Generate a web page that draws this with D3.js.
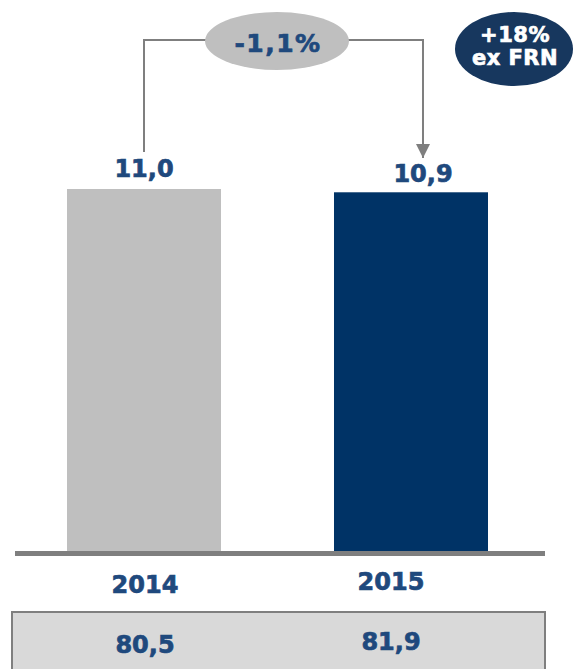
<!DOCTYPE html>
<html><head><meta charset="utf-8">
<script src="https://cdn.jsdelivr.net/npm/d3@7"></script>
<style>html,body{margin:0;padding:0;background:#fff;}</style>
</head><body>
<svg id="c" width="577" height="669"></svg>
<script>
const years = ["2014", "2015"];
const values = [11.0, 10.9];
const valueLabels = ["11,0", "10,9"];
const tableValues = ["80,5", "81,9"];
const changeLabel = "-1,1%";
const badgeLines = ["+18%", "ex FRN"];
const barColors = ["#BFBFBF", "#003366"];

const svg = d3.select("#c");
const font = "'DejaVu Sans', Verdana, sans-serif";
const textColor = "#1F497D";
const baseY = 551;

const x = d3.scaleBand().domain(years).range([67, 488]).paddingInner(0.4232).paddingOuter(0);
const y = d3.scaleLinear().domain([0, 11]).range([baseY, 189]);
const tableX = d3.scalePoint().domain(years).range([145, 391]);

function bold(sel, size, color) {
  return sel.attr("font-family", font).attr("font-weight", "bold").attr("font-size", size)
    .attr("fill", color).attr("stroke", color).attr("stroke-width", 0.7);
}

// bars
svg.selectAll("rect.bar").data(years).join("rect").attr("class", "bar")
  .attr("x", d => x(d)).attr("width", x.bandwidth())
  .attr("y", (d, i) => y(values[i])).attr("height", (d, i) => baseY - y(values[i]))
  .attr("fill", (d, i) => barColors[i]);

// baseline
svg.append("rect").attr("x", 15).attr("y", baseY).attr("width", 530).attr("height", 5).attr("fill", "#7F7F7F");

// value labels
const labelOffsets = [0, 12];
const labelGaps = [12, 10];
bold(svg.selectAll("text.val").data(years).join("text").attr("class", "val")
  .attr("x", (d, i) => x(d) + x.bandwidth() / 2 + labelOffsets[i])
  .attr("y", (d, i) => y(values[i]) - labelGaps[i])
  .attr("text-anchor", "middle"), 24, textColor).text((d, i) => valueLabels[i]);

// year labels
bold(svg.selectAll("text.yr").data(years).join("text").attr("class", "yr")
  .attr("x", d => tableX(d)).attr("y", (d, i) => [593, 590][i])
  .attr("text-anchor", "middle"), 24, textColor).text(d => d);

// table box
svg.append("rect").attr("x", 12).attr("y", 612).attr("width", 533).attr("height", 70)
  .attr("fill", "#D9D9D9").attr("stroke", "#7F7F7F").attr("stroke-width", 2);
bold(svg.selectAll("text.tv").data(years).join("text").attr("class", "tv")
  .attr("x", d => tableX(d)).attr("y", (d, i) => [653, 650][i])
  .attr("text-anchor", "middle"), 24, textColor).text((d, i) => tableValues[i]);

// connector
const x1 = x(years[0]) + x.bandwidth() / 2;
const x2 = x(years[1]) + x.bandwidth() / 2 + labelOffsets[1];
const cy = 40;
svg.append("defs").append("marker").attr("id", "arr").attr("viewBox", "0 0 10 10")
  .attr("refX", 10).attr("refY", 5).attr("markerWidth", 7).attr("markerHeight", 7)
  .attr("markerUnits", "strokeWidth").attr("orient", "auto")
  .append("path").attr("d", "M0,0 L10,5 L0,10 Z").attr("fill", "#7F7F7F");
svg.append("path").attr("d", `M${x1},${152} V${cy} H${x2} V${158}`)
  .attr("fill", "none").attr("stroke", "#7F7F7F").attr("stroke-width", 2)
  .attr("marker-end", "url(#arr)");
svg.append("ellipse").attr("cx", 277).attr("cy", 41).attr("rx", 72).attr("ry", 29).attr("fill", "#BFBFBF");
bold(svg.append("text").attr("x", 278).attr("y", 52).attr("text-anchor", "middle")
  .attr("letter-spacing", 1.5), 25, textColor)
  .text(changeLabel);

// badge
svg.append("ellipse").attr("cx", 514).attr("cy", 49).attr("rx", 59).attr("ry", 37).attr("fill", "#17375E");
bold(svg.selectAll("text.badge").data(badgeLines).join("text").attr("class", "badge")
  .attr("x", 515).attr("y", (d, i) => 42 + i * 23).attr("text-anchor", "middle")
  .attr("letter-spacing", 0.5), 21, "#FFFFFF")
  .text(d => d);
</script>
</body></html>
